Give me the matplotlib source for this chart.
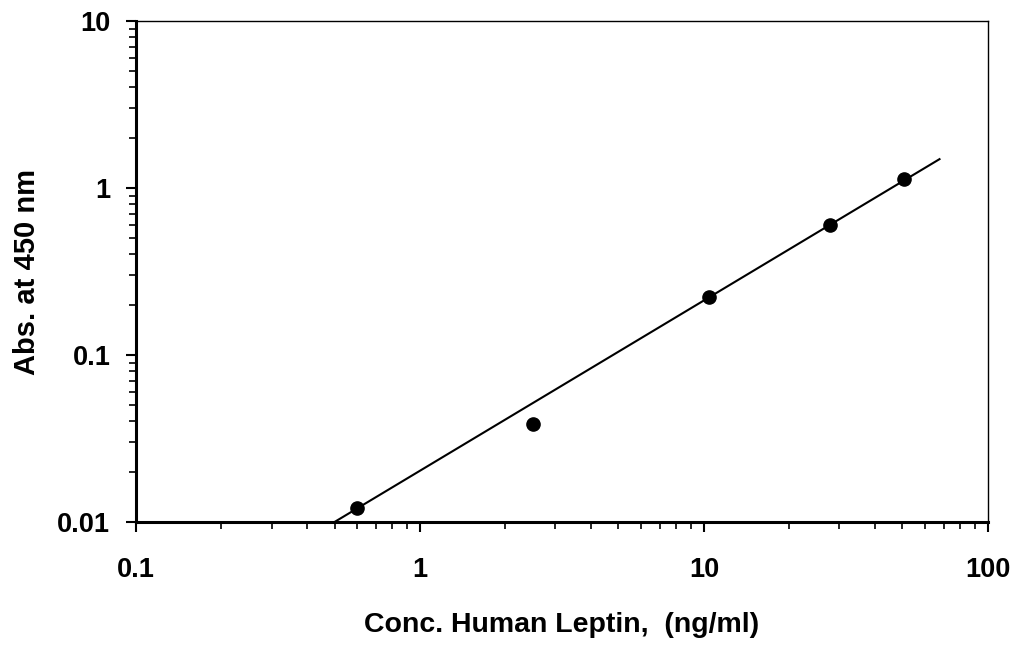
import matplotlib
matplotlib.use('Agg')
import matplotlib.pyplot as plt
from matplotlib.ticker import LogLocator, FixedFormatter, FixedLocator

# --------- DATA ----------
conc = [0.6, 2.5, 10.4, 27.7, 50.5]          # ng/ml
absorb = [0.0121, 0.0385, 0.224, 0.604, 1.13]  # A450

# standard curve line
fit_x = [0.5, 68.0]
fit_y = [0.01, 1.5]

x_ticks = [0.1, 1, 10, 100]
x_labels = ["0.1", "1", "10", "100"]
y_ticks = [0.01, 0.1, 1, 10]
y_labels = ["0.01", "0.1", "1", "10"]
# --------------------------

plt.rcParams['font.family'] = ['Liberation Sans', 'DejaVu Sans']

fig = plt.figure(figsize=(10.18, 6.45), dpi=100)
ax = fig.add_axes([0.1336, 0.1907, 0.9705 - 0.1336, 0.9674 - 0.1907])

ax.plot(fit_x, fit_y, color='black', lw=1.5, solid_capstyle='butt')
ax.plot(conc, absorb, 'o', color='black', ms=9.5, clip_on=False)

ax.set_xscale('log')
ax.set_yscale('log')
ax.set_xlim(0.1, 100)
ax.set_ylim(0.01, 10)

ax.xaxis.set_major_locator(FixedLocator(x_ticks))
ax.xaxis.set_major_formatter(FixedFormatter(x_labels))
ax.yaxis.set_major_locator(FixedLocator(y_ticks))
ax.yaxis.set_major_formatter(FixedFormatter(y_labels))
ax.xaxis.set_minor_locator(LogLocator(base=10, subs=range(2, 10)))
ax.yaxis.set_minor_locator(LogLocator(base=10, subs=range(2, 10)))
ax.xaxis.set_minor_formatter(FixedFormatter([]))
ax.yaxis.set_minor_formatter(FixedFormatter([]))

ax.tick_params(which='major', direction='out', length=7, width=1.5,
               labelsize=19.5)
ax.tick_params(axis='y', which='major', pad=11.5)
ax.tick_params(axis='x', which='major', pad=18)
ax.tick_params(which='minor', direction='out', length=5, width=1.2)
for lab in ax.get_xticklabels() + ax.get_yticklabels():
    lab.set_fontweight('bold')

ax.spines['left'].set_linewidth(2.2)
ax.spines['bottom'].set_linewidth(2.2)
ax.spines['top'].set_linewidth(1.0)
ax.spines['right'].set_linewidth(1.0)

ax.set_xlabel("Conc. Human Leptin,  (ng/ml)", fontsize=20.5, fontweight='bold')
ax.set_ylabel("Abs. at 450 nm", fontsize=21, fontweight='bold')
ax.xaxis.set_label_coords(0.5, -0.18)
ax.yaxis.set_label_coords(-0.1115, 0.5)

fig.savefig('out.png', dpi=100)
